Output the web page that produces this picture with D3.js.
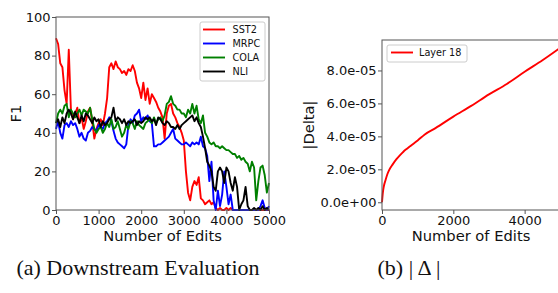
<!DOCTYPE html>
<html>
<head>
<meta charset="utf-8">
<script src="https://cdn.jsdelivr.net/npm/d3@7/dist/d3.min.js"></script>
<style>
  html, body { margin: 0; padding: 0; background: #fff; }
  svg { display: block; }
  text { font-family: "DejaVu Sans", sans-serif; fill: #111; }
</style>
</head>
<body>
<svg id="chart" width="558" height="293"></svg>
<script>
// ---------- data ----------
const edits = d3.range(0, 5001, 50);
const seriesNames = ["SST2", "MRPC", "COLA", "NLI"];
const seriesColors = ["#ff0000", "#0000ff", "#008000", "#000000"];

const sst2 = [89,86,76,74,62,55,83,52,47,50,53,45,48,42,46,51,53,46,37,42,
  45,47,44,50,58,74,76,73,77,74,73,71,72,70,73,72,75,72,66,63,
  58,66,57,63,55,60,58,56,53,51,48,37,50,54,55,50,48,45,43,40,
  36,20,9,5,12,15,13,17,6,5,3,4,5,3,4,1,0,1,0,0,
  1,0,1,0,0,0,0,0,0,0,0,0,0,0,0,0,0,0,0,0,0];
const mrpc = [42,46,40,37,44,45,43,46,44,45,42,38,40,37,36,40,41,43,42,41,
  44,43,42,45,46,48,46,41,37,35,34,33,32,34,44,47,45,49,50,52,
  46,48,47,49,46,45,33,33,34,34,35,36,37,38,40,42,37,36,35,34,
  34,35,34,33,35,34,35,34,38,33,32,28,15,25,5,0,10,2,8,20,
  12,3,8,0,0,0,0,0,0,0,0,0,0,0,0,0,2,5,1,0,2];
const cola = [45,50,52,50,54,55,48,52,50,48,50,52,49,52,51,50,53,47,42,40,
  42,43,40,42,45,43,47,42,43,46,42,38,40,44,42,46,45,42,46,44,
  43,42,45,46,47,45,48,45,47,48,46,49,55,56,59,55,54,52,52,50,
  50,48,52,50,55,50,54,47,45,49,40,38,35,34,35,33,33,32,33,32,
  31,31,30,29,29,27,28,26,27,25,24,20,25,22,5,15,22,23,18,9,14];
const nli = [45,47,43,48,45,50,52,50,47,51,48,45,49,46,50,49,47,45,48,46,
  47,43,46,44,45,47,48,53,46,48,47,45,47,44,46,45,46,47,44,46,
  45,46,48,47,48,46,47,44,48,47,45,44,46,45,43,43,42,44,42,44,
  45,46,47,48,49,46,48,45,43,38,32,25,23,20,12,10,20,22,20,14,
  22,20,14,10,17,12,0,3,5,12,2,0,0,1,0,1,0,2,0,1,0];
const f1Series = [sst2, mrpc, cola, nli];
const f1Ticks = [0, 20, 40, 60, 80, 100];
const editTicksA = [0, 1000, 2000, 3000, 4000, 5000];

const deltaEdits = [0,25,50,100,150,200,300,400,500,600,700,800,1000,1200,1500,2000,2500,3000,3500,4000,4500,5000];
const deltaValues = [0,0.6e-5,0.95e-5,1.35e-5,1.7e-5,1.95e-5,2.3e-5,2.6e-5,2.85e-5,3.07e-5,3.25e-5,3.42e-5,3.75e-5,4.12e-5,4.5e-5,5.2e-5,5.85e-5,6.55e-5,7.18e-5,7.92e-5,8.62e-5,9.38e-5];
const deltaTicks = [0, 2e-5, 4e-5, 6e-5, 8e-5];
const editTicksB = [0, 2000, 4000];
const deltaLegend = "Layer 18";

const captionA = "(a) Downstream Evaluation";
const captionB = "(b) |\u2009Δ\u2009|";

// ---------- drawing ----------
const svg = d3.select("#chart");
const spineColor = "#555";
const tickFont = 13, labelFont = 14.7, legendFont = 9.7;

function drawAxes(g, x, y, xTicks, yTicks, yFmt) {
  const [x0, x1] = x.range();
  const [y0, y1] = y.range(); // y0 bottom, y1 top
  const xa = g.append("g").attr("transform", `translate(0,${y0})`)
    .call(d3.axisBottom(x).tickValues(xTicks).tickSize(4).tickPadding(2).tickFormat(d3.format("d")));
  const ya = g.append("g").attr("transform", `translate(${x0},0)`)
    .call(d3.axisLeft(y).tickValues(yTicks).tickSize(4).tickPadding(1.5).tickFormat(yFmt));
  [xa, ya].forEach(a => {
    a.select(".domain").remove();
    a.selectAll(".tick line").attr("stroke", spineColor).attr("stroke-width", 1);
    a.selectAll(".tick text").attr("font-size", tickFont).attr("font-family", "DejaVu Sans").attr("fill", "#111");
  });
  g.append("rect").attr("x", x0).attr("y", y1).attr("width", x1 - x0).attr("height", y0 - y1)
    .attr("fill", "none").attr("stroke", spineColor).attr("stroke-width", 1);
}

// Panel (a)
const xA = d3.scaleLinear().domain([0, 5000]).range([56, 269]);
const yA = d3.scaleLinear().domain([0, 100]).range([210, 17]);
const gA = svg.append("g");
const lineA = d3.line().x((d, i) => xA(edits[i])).y(d => yA(d));
f1Series.forEach((s, k) => {
  gA.append("path").datum(s).attr("d", lineA)
    .attr("fill", "none").attr("stroke", seriesColors[k]).attr("stroke-width", 1.9)
    .attr("stroke-linejoin", "round");
});
drawAxes(gA, xA, yA, editTicksA, f1Ticks, d3.format("d"));
gA.append("text").attr("x", (56 + 269) / 2).attr("y", 241).attr("text-anchor", "middle")
  .attr("font-size", labelFont).text("Number of Edits");
gA.append("text").attr("transform", "translate(21,113.5) rotate(-90)").attr("text-anchor", "middle")
  .attr("font-size", labelFont).text("F1");

// legend (a)
const legA = gA.append("g").attr("transform", "translate(200,22)");
legA.append("rect").attr("width", 65).attr("height", 59).attr("rx", 2)
  .attr("fill", "#fff").attr("fill-opacity", 0.8).attr("stroke", "#ccc").attr("stroke-width", 1);
seriesNames.forEach((n, k) => {
  const yy = 7.5 + k * 14;
  legA.append("line").attr("x1", 3).attr("x2", 25).attr("y1", yy).attr("y2", yy)
    .attr("stroke", seriesColors[k]).attr("stroke-width", 1.9);
  legA.append("text").attr("x", 32.5).attr("y", yy + 3.5).attr("font-size", legendFont).text(n);
});

// Panel (b)
const xB = d3.scaleLinear().domain([0, 5000]).range([382, 560.3]);
const yB = d3.scaleLinear().domain([-0.469e-5, 9.849e-5]).range([210, 40]);
const gB = svg.append("g");
gB.append("path").datum(deltaValues)
  .attr("d", d3.line().curve(d3.curveMonotoneX).x((d, i) => xB(deltaEdits[i])).y(d => yB(d)))
  .attr("fill", "none").attr("stroke", "#ff0000").attr("stroke-width", 1.9);
drawAxes(gB, xB, yB, editTicksB, deltaTicks, d => d.toExponential(1).replace(/e([+-])(\d)$/, "e$10$2"));
gB.append("text").attr("x", 471).attr("y", 241).attr("text-anchor", "middle")
  .attr("font-size", labelFont).text("Number of Edits");
gB.append("text").attr("transform", "translate(314,125) rotate(-90)").attr("text-anchor", "middle")
  .attr("font-size", labelFont).text("|Delta|");

const legB = gB.append("g").attr("transform", "translate(387,45)");
legB.append("rect").attr("width", 80).attr("height", 17).attr("rx", 2)
  .attr("fill", "#fff").attr("fill-opacity", 0.8).attr("stroke", "#ccc").attr("stroke-width", 1);
legB.append("line").attr("x1", 4).attr("x2", 26).attr("y1", 7.5).attr("y2", 7.5)
  .attr("stroke", "#ff0000").attr("stroke-width", 1.9);
legB.append("text").attr("x", 32).attr("y", 11).attr("font-size", legendFont).text(deltaLegend);

// captions
svg.append("text").attr("x", 138).attr("y", 275).attr("text-anchor", "middle")
  .style("font-family", "'Liberation Serif', serif").attr("font-size", 22).text(captionA);
svg.append("text").attr("x", 409).attr("y", 275).attr("text-anchor", "middle")
  .style("font-family", "'Liberation Serif', serif").attr("font-size", 22).text(captionB);
</script>
</body>
</html>
